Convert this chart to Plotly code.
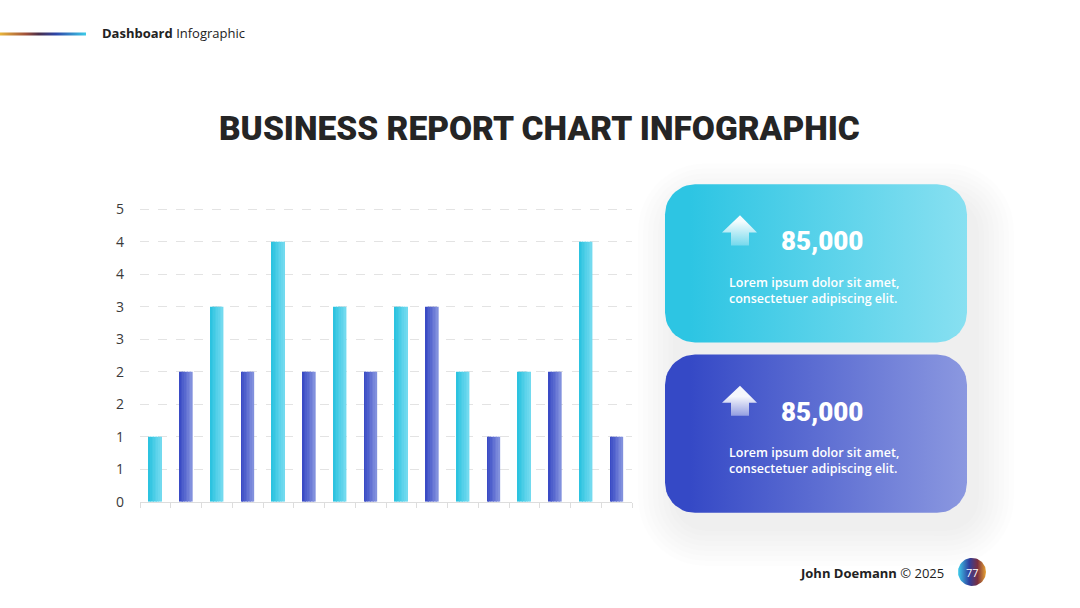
import numpy as np
import plotly.graph_objects as go

# ---------------- data ----------------
categories = list(range(16))
values = [1, 2, 3, 2, 4, 2, 3, 2, 3, 3, 2, 1, 2, 2, 4, 1]
series_kind = ["cyan", "blue"] * 8
tick_vals = [0, 0.5, 1, 1.5, 2, 2.5, 3, 3.5, 4, 4.5]
tick_text = ["0", "1", "1", "2", "2", "3", "3", "4", "4", "5"]
card_values = ["85,000", "85,000"]
card_texts = ["Lorem ipsum dolor sit amet,<br>consectetuer adipiscing elit.",
              "Lorem ipsum dolor sit amet,<br>consectetuer adipiscing elit."]

W, H = 1080, 608
# visible vertical window (calibrated for the viewer)
VT, VH = 9, 590

def hex2rgb(h):
    h = h.lstrip('#')
    return np.array([int(h[i:i + 2], 16) for i in (0, 2, 4)], dtype=float)

def mix(a, b, t):
    c = hex2rgb(a) * (1 - t) + hex2rgb(b) * t
    return 'rgb(%d,%d,%d)' % tuple(np.round(c))

grad = {"cyan": ("#2CC3E0", "#72DAEF"), "blue": ("#3A4BC5", "#8190DD")}

fig = go.Figure()

def px_trace(xs, ys, **kw):
    return go.Scatter(x=xs, y=ys, xaxis="x2", yaxis="y2", mode="lines",
                      hoverinfo="skip", showlegend=False, **kw)

def rounded_rect(x0, y0, x1, y1, r, n=12):
    pts = []
    corners = [(x1 - r, y0 + r, -90, 0), (x1 - r, y1 - r, 0, 90),
               (x0 + r, y1 - r, 90, 180), (x0 + r, y0 + r, 180, 270)]
    for cx, cy, a0, a1 in corners:
        for a in np.linspace(np.radians(a0), np.radians(a1), n):
            pts.append((cx + r * np.cos(a), cy + r * np.sin(a)))
    pts.append(pts[0])
    xs, ys = zip(*pts)
    return list(xs), list(ys)

# soft shadow behind cards
for i in range(8):
    g = 2 + i * 5
    xs, ys = rounded_rect(665 - g + 10, 185 - g + 16, 967 + g + 10, 513 + g + 16, 30 + g)
    fig.add_trace(px_trace(xs, ys, fill="toself", fillcolor="rgba(0,0,0,0.008)",
                           line=dict(width=0)))

cards = [
    (185, 343, ["#2DC5E3", "#88E0F1"]),
    (355, 513, ["#3549C6", "#8B98E0"]),
]
for (y0, y1, cs) in cards:
    xs, ys = rounded_rect(665, y0, 967, y1, 30)
    fig.add_trace(px_trace(xs, ys, fill="toself",
                           fillgradient=dict(type="horizontal",
                                             colorscale=[[0, cs[0]], [1, cs[1]]],
                                             start=690, stop=967),
                           line=dict(width=0)))

# arrows
for oy in (0, 170):
    ax = [740, 757, 749, 749, 731, 731, 722, 740]
    ay = [216, 233, 233, 246, 246, 233, 233, 216]
    ay = [v + oy for v in ay]
    fig.add_trace(px_trace(ax, ay, fill="toself",
                           fillgradient=dict(type="vertical",
                                             colorscale=[[0, "rgba(255,255,255,0.1)"],
                                                         [1, "rgba(255,255,255,0.95)"]],
                                             start=246 + oy, stop=216 + oy),
                           line=dict(width=0)))

# header gradient line
fig.add_trace(px_trace([0, 86, 86, 0, 0], [33.5, 33.5, 36.5, 36.5, 33.5], fill="toself",
                       fillgradient=dict(type="horizontal",
                                         colorscale=[[0, "#E9B53A"], [0.3, "#A0503A"],
                                                     [0.45, "#4A2F4A"], [0.65, "#2D45A8"],
                                                     [1, "#3CCBE8"]],
                                         start=0, stop=86),
                       line=dict(width=0)))

# page circle
th = np.linspace(0, 2 * np.pi, 60)
fig.add_trace(px_trace(list(972 + 14 * np.cos(th)), list(572 + 14 * np.sin(th)), fill="toself",
                       fillgradient=dict(type="horizontal",
                                         colorscale=[[0, "#3ECDEB"], [0.4, "#2E3F9E"],
                                                     [0.7, "#7A2F3F"], [1, "#E9A432"]],
                                         start=958, stop=986),
                       line=dict(width=0)))

# ---------- bars (sliced to simulate horizontal gradient) ----------
n_sl = 8
bw = 0.42
for k in range(n_sl):
    t = k / (n_sl - 1)
    cols = [mix(grad[s][0], grad[s][1], t) for s in series_kind]
    fig.add_trace(go.Bar(
        x=categories, y=values, width=bw / n_sl * 1.05,
        offset=-bw / 2 + k * bw / n_sl,
        marker=dict(color=cols, line=dict(width=0)),
        hoverinfo="skip", showlegend=False))

# ---------- layout ----------
def py(Y):
    return 1 - (Y - VT) / VH

YMAX = 4.53
top_px = 502 - (502 - 210) * YMAX / 4.5
xd = (140 / W, 632 / W)
yd = (py(502), py(top_px))
fig.update_layout(
    barmode="overlay", autosize=False,
    width=W, height=H, margin=dict(l=0, r=0, t=0, b=0, pad=0),
    paper_bgcolor="white", plot_bgcolor="rgba(0,0,0,0)",
    xaxis=dict(domain=list(xd), range=[-0.5, 15.5], showgrid=False, zeroline=False,
               tickmode="array", tickvals=[i - 0.5 for i in range(17)],
               ticks="outside", ticklen=5, tickcolor="#DDDDDD", showticklabels=False,
               showline=True, linecolor="#DDDDDD", linewidth=1, anchor="y"),
    yaxis=dict(domain=list(yd), range=[0, YMAX], tickmode="array", tickvals=tick_vals,
               ticktext=tick_text, showgrid=True, gridcolor="#E3E3E3", griddash="dash",
               gridwidth=1, zeroline=False, ticks="", ticklabelstandoff=15,
               tickfont=dict(family="Open Sans", size=14, color="#3A3A3A"), anchor="x"),
    xaxis2=dict(domain=[0, 1], range=[0, W], visible=False, anchor="y2"),
    yaxis2=dict(domain=[0, 1], range=[VT + VH, VT], visible=False, anchor="x2"),
)

ann = []
ann.append(dict(text="BUSINESS REPORT CHART INFOGRAPHIC", x=539, y=129,
                font=dict(family="Roboto", size=33.5, color="#252525", weight=900)))
ann.append(dict(text="<b>Dashboard</b> Infographic", x=100, y=34, xanchor="left",
                font=dict(family="Open Sans", size=13, color="#222222")))
ann.append(dict(text="<b>John Doemann</b> © 2025", x=946, y=573, xanchor="right",
                font=dict(family="Open Sans", size=13, color="#222222")))
ann.append(dict(text="77", x=972, y=573,
                font=dict(family="Open Sans", size=11, color="white")))
for i, oy in enumerate((0, 170)):
    ann.append(dict(text=card_values[i], x=779, y=242 + oy, xanchor="left",
                    font=dict(family="Roboto", size=26, color="white", weight=900)))
    ann.append(dict(text=card_texts[i], x=727, y=291 + oy, xanchor="left", align="left",
                    font=dict(family="Open Sans", size=12.5, color="white", weight=600)))
for a in ann:
    a.update(xref="x2", yref="y2", showarrow=False, yanchor=a.get("yanchor", "middle"),
             xanchor=a.get("xanchor", "center"))
fig.update_layout(annotations=ann)

fig.write_html("out.html", config={"displayModeBar": False},
               post_script="document.body.style.margin='0px';document.body.style.overflow='hidden';")
